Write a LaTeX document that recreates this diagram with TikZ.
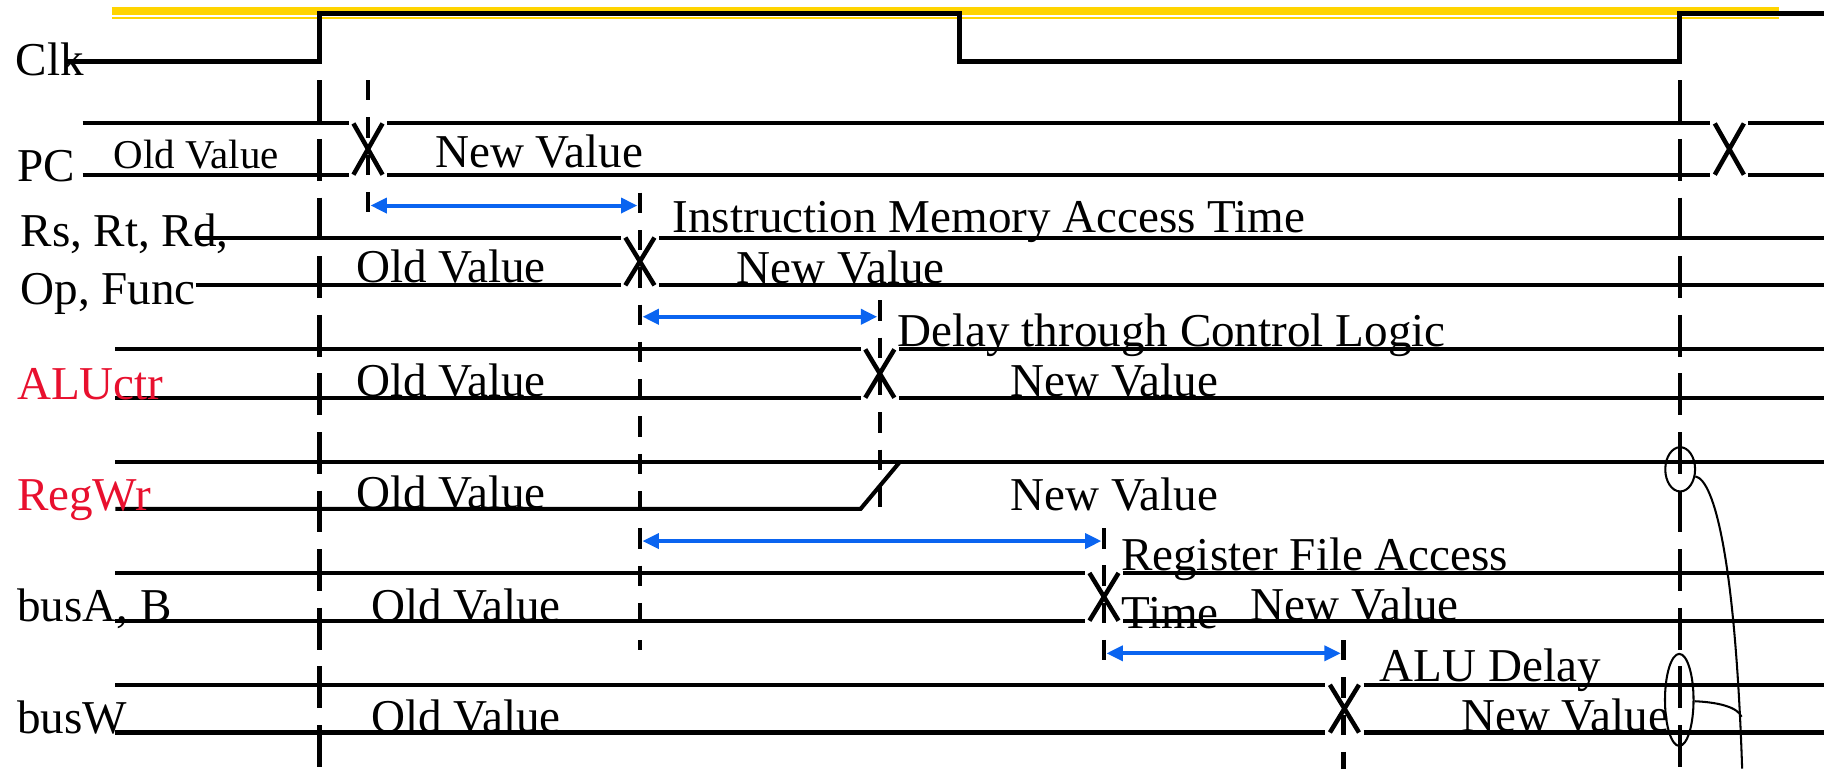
\documentclass[tikz,border=0pt]{standalone}
\usepackage{fontspec}
\setmainfont{Liberation Serif}
\usepackage{tikz}
\usetikzlibrary{arrows.meta,shapes.geometric,calc}
\definecolor{clkc}{HTML}{FFD400}
\definecolor{delayc}{HTML}{0A64F0}
\definecolor{ctrlc}{HTML}{E8102E}
\tikzset{
  sig/.style={line width=1pt},
  xing/.style={line width=1.1pt},
  edgeln/.style={line width=1.1pt, dash pattern=on 0.358cm off 0.145cm},
  evln/.style={line width=1.1pt, dash pattern=on 0.175cm off 0.145cm},
  darr/.style={{Triangle[length=4pt,width=3.6pt]}-{Triangle[length=4pt,width=3.6pt]},
               draw=delayc, line width=1pt, shorten <=0.6pt, shorten >=0.6pt},
  lbl/.style={font=\fontsize{11.5}{13.8}\selectfont, inner sep=0pt, anchor=base west},
  slbl/.style={lbl, font=\fontsize{10}{12}\selectfont},
  rlbl/.style={lbl, text=ctrlc},
  ring/.style={draw, ellipse, line width=0.5pt, inner sep=0pt},
  lead/.style={line width=0.5pt},
}

\begin{document}
\begin{tikzpicture}[x=0.01cm, y=-0.01cm]
  \useasboundingbox (0,0) rectangle (1568,660);

  % clock
  \draw[clkc, line width=1.9pt] (96,9.6) -- (1528,9.6);
  \draw[clkc, line width=0.5pt] (96,15.7) -- (1528,15.7);
  \draw[line width=1.2pt] (57,53) -- (274.5,53) -- (274.5,11.5) -- (824,11.5) -- (824,53)
    -- (1442.5,53) -- (1442.5,11.5) -- (1566,11.5);
  \node[lbl] (clk) at (13,65) {Clk};

  % PC
  \foreach \y in {106,150}
    \draw[sig] (71,\y) -- (299.5,\y) (332.5,\y) -- (1468.5,\y) (1501,\y) -- (1566,\y);
  \foreach \xc in {316,1485}
    \draw[xing] (\xc-12.5,106) -- (\xc+12.5,150) (\xc+12.5,106) -- (\xc-12.5,150);
  \node[lbl] (pc) at (14,156) {PC};
  \node[slbl] (pcold) at (97,144.6) {Old Value};
  \node[lbl] (pcnew) at (373,143.7) {New Value};

  % other buses: y top / y bottom / x start / x of change
  \foreach \yt/\yb/\xs/\xc in {204/245/168/549.5, 300/341.5/99/755.5, 492/533/99/948, 588/629/99/1154.5} {
    \draw[sig] (\xs,\yt) -- (\xc-16.5,\yt) (\xc+16.5,\yt) -- (1566,\yt);
    \draw[sig] (\xs,\yb) -- (\xc-16.5,\yb) (\xc+16.5,\yb) -- (1566,\yb);
    \draw[xing] (\xc-12.5,\yt) -- (\xc+12.5,\yb) (\xc+12.5,\yt) -- (\xc-12.5,\yb);
  }

  % RegWr
  \draw[sig] (99,396.5) -- (1566,396.5);
  \draw[sig] (99,437) -- (739,437) -- (772,397.5);

  % clock edges and events
  \foreach \x in {274.5,1442.5} \draw[edgeln] (\x,69) -- (\x,660);
  \foreach \x/\ya/\yb in {316/68.7/183.5, 549.5/165.5/558, 755.5/258/437, 948/453.5/567.5, 1153.5/549.6/660}
    \draw[evln] (\x,\ya) -- (\x,\yb);

  % delays
  \foreach \n/\xa/\xb/\ya in {imem/316/549.5/176.5, ctrl/549.5/755.5/272, rfile/549.5/948/464.6, alu/948/1153.5/561} {
    \coordinate (\n-l) at (\xa,\ya);
    \coordinate (\n-r) at (\xb,\ya);
    \draw[darr] (\n-l) -- (\n-r);
  }

  \node[lbl] (rs) at (17,211.8) {Rs, Rt, Rd,};
  \node[lbl] (op) at (17,261.5) {Op, Func};
  \node[lbl] (rsold) at (305,243) {Old Value};
  \node[lbl] (rsnew) at (632,243.3) {New Value};
  \node[lbl] (imemt) at (577,200) {Instruction Memory Access Time};

  \node[rlbl] (aluctr) at (14,342.7) {ALUctr};
  \node[lbl] (aluold) at (305,340.6) {Old Value};
  \node[lbl] (alunew) at (867,340.6) {New Value};
  \node[lbl] (ctrlt) at (770,297.7) {Delay through Control Logic};

  \node[rlbl] (regwr) at (14,438) {RegWr};
  \node[lbl] (regold) at (305,436.8) {Old Value};
  \node[lbl] (regnew) at (867,438) {New Value};

  \node[lbl] (busab) at (14,533.8) {busA, B};
  \node[lbl] (busaold) at (318,533.8) {Old Value};
  \node[lbl] (busanew) at (1073.4,532.4) {New Value};
  \node[lbl] (rfilet) at (962,489.5) {Register File Access};
  \node[lbl] (rfilet2) at (962,539.5) {Time};

  \node[lbl] (busw) at (14,629.6) {busW};
  \node[lbl] (buswold) at (318,629) {Old Value};
  \node[lbl] (buswnew) at (1254,628.3) {New Value};
  \node[lbl] (alut) at (1184,585.4) {ALU Delay};

  % write at the edge
  \node[ring, minimum width=0.256cm, minimum height=0.38cm] (wen) at (1442.8,403) {};
  \node[ring, minimum width=0.245cm, minimum height=0.79cm] (wbus) at (1442,601) {};
  \coordinate (foot) at (1496,660);
  \coordinate (join) at (1495.5,615.5);
  \draw[lead] (wen.-25) .. controls (1472,412) and (1490,480) .. (foot);
  \draw[lead] (wbus.-5) .. controls (1475,603) and (1492,607) .. (join);
\end{tikzpicture}
\end{document}
